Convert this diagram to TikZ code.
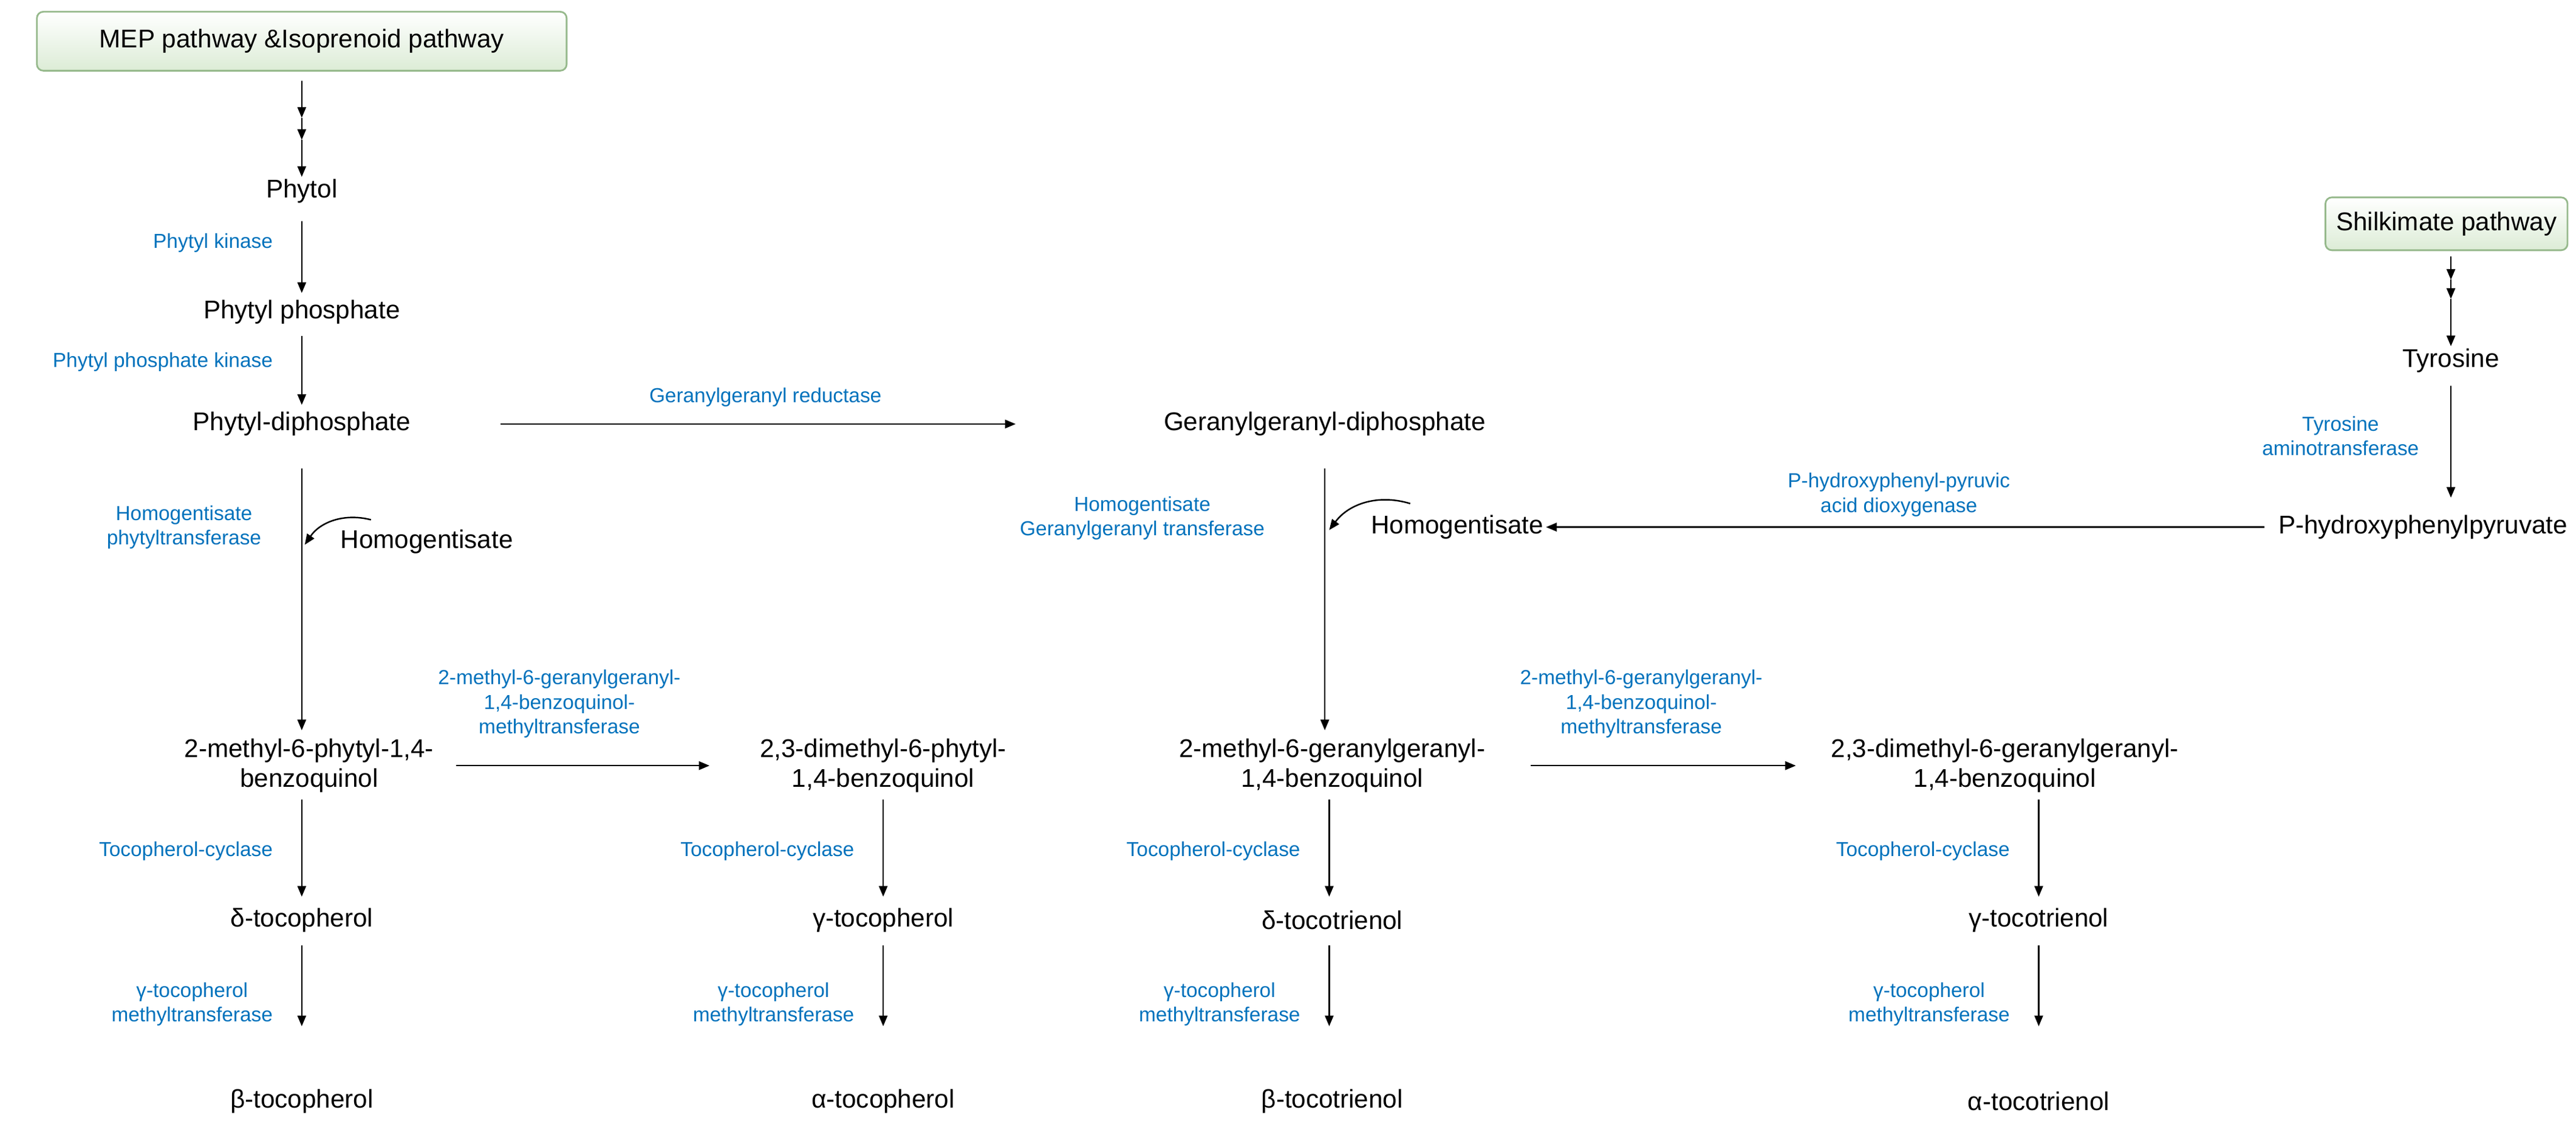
\documentclass[tikz,border=0pt]{standalone}
\usepackage{fontspec}
\setmainfont{Liberation Sans}
\usetikzlibrary{arrows.meta}
\definecolor{enz}{RGB}{0,114,188}
\definecolor{boxg}{RGB}{220,236,214}
\definecolor{boxd}{RGB}{150,185,140}
\begin{document}
\begin{tikzpicture}[x=0.024234cm,y=-0.024234cm,
 cmp/.style={font=\fontsize{12}{14}\selectfont,align=center,inner sep=1pt},
 en/.style={font=\fontsize{9.5}{11.5}\selectfont,text=enz,align=center,inner sep=1pt},
 pw/.style={draw=boxd,line width=0.8pt,rounded corners=3pt,top color=white,bottom color=boxg,font=\fontsize{12}{14}\selectfont,inner sep=5pt},
 ar/.style={-{Triangle[length=5pt,width=4pt]},line width=0.7pt}]
\useasboundingbox (0,0) rectangle (1750,763);
% left column
\node[pw,minimum width=8.72cm,minimum height=0.97cm] (mep) at (205,28) {MEP pathway \&Isoprenoid pathway};
\node[cmp] (phytol) at (205,130) {Phytol};
\coordinate (m1) at (205,80); \coordinate (m2) at (205,95);
\draw[ar] (205,55) -- (m1);
\draw[ar] (m1) -- (m2);
\draw[ar] (m2) -- (phytol.north);
\node[cmp] (pp) at (205,212) {Phytyl phosphate};
\draw[ar] (205,150) -- (205,199);
\node[en,anchor=east] at (187,165) {Phytyl kinase};
\node[cmp] (pdp) at (205,288) {Phytyl-diphosphate};
\draw[ar] (205,228) -- (205,275);
\node[en,anchor=east] at (187,246) {Phytyl phosphate kinase};
\node[cmp] (q1) at (210,520) {2-methyl-6-phytyl-1,4-\\benzoquinol};
\draw[ar] (205,318) -- (205,496);
\node[cmp] (hg1) at (290,368) {Homogentisate};
\draw[ar] (252,353) to[bend right=35] (207,370);
\node[en] at (125,358) {Homogentisate\\phytyltransferase};
\node[cmp] (dt) at (205,625) {δ-tocopherol};
\draw[ar] (205,543) -- (205,609);
\node[en,anchor=east] at (187,578) {Tocopherol-cyclase};
\node[cmp] (bt) at (205,748) {β-tocopherol};
\draw[ar] (205,642) -- (205,697);
\node[en,anchor=east] at (187,682) {γ-tocopherol\\methyltransferase};
% second column
\node[cmp] (q2) at (600,520) {2,3-dimethyl-6-phytyl-\\1,4-benzoquinol};
\draw[ar] (310,520) -- (482,520);
\node[en] at (380,478) {2-methyl-6-geranylgeranyl-\\1,4-benzoquinol-\\methyltransferase};
\node[cmp] (gt) at (600,625) {γ-tocopherol};
\draw[ar] (600,543) -- (600,609);
\node[en,anchor=east] at (582,578) {Tocopherol-cyclase};
\node[cmp] (at) at (600,748) {α-tocopherol};
\draw[ar] (600,642) -- (600,697);
\node[en,anchor=east] at (582,682) {γ-tocopherol\\methyltransferase};
% third column
\node[cmp] (ggdp) at (900,288) {Geranylgeranyl-diphosphate};
\draw[ar] (340,288) -- (690,288);
\node[en] at (520,270) {Geranylgeranyl reductase};
\node[cmp] (q3) at (905,520) {2-methyl-6-geranylgeranyl-\\1,4-benzoquinol};
\draw[ar] (900,318) -- (900,496);
\node[cmp] (hg2) at (990,358) {Homogentisate};
\draw[ar] (958,342) to[bend right=35] (903,360);
\node[en] at (776,352) {Homogentisate\\Geranylgeranyl transferase};
\node[cmp] (dt3) at (905,625) {δ-tocotrienol};
\draw[ar] (903,543) -- (903,609);
\node[en,anchor=east] at (885,578) {Tocopherol-cyclase};
\node[cmp] (bt3) at (905,748) {β-tocotrienol};
\draw[ar] (903,642) -- (903,697);
\node[en,anchor=east] at (885,682) {γ-tocopherol\\methyltransferase};
% fourth column
\node[cmp] (q4) at (1362,520) {2,3-dimethyl-6-geranylgeranyl-\\1,4-benzoquinol};
\draw[ar] (1040,520) -- (1220,520);
\node[en] at (1115,478) {2-methyl-6-geranylgeranyl-\\1,4-benzoquinol-\\methyltransferase};
\node[cmp] (gt4) at (1385,625) {γ-tocotrienol};
\draw[ar] (1385,543) -- (1385,609);
\node[en,anchor=east] at (1367,578) {Tocopherol-cyclase};
\node[cmp] (at4) at (1385,748) {α-tocotrienol};
\draw[ar] (1385,642) -- (1385,697);
\node[en,anchor=east] at (1367,682) {γ-tocopherol\\methyltransferase};
% shikimate
\node[pw,minimum width=3.64cm,minimum height=0.87cm] (shk) at (1662,152) {Shilkimate pathway};
\node[cmp] (tyr) at (1665,245) {Tyrosine};
\coordinate (s1) at (1665,190); \coordinate (s2) at (1665,203);
\draw[ar] (1665,174) -- (s1);
\draw[ar] (s1) -- (s2);
\draw[ar] (s2) -- (tyr.north);
\node[cmp,anchor=east] (hpp) at (1746,358) {P-hydroxyphenylpyruvate};
\draw[ar] (1665,262) -- (1665,338);
\node[en] at (1590,296) {Tyrosine\\aminotransferase};
\draw[ar] (hpp.west)++(-8,0) -- (hg2.east);
\node[en] at (1290,336) {P-hydroxyphenyl-pyruvic\\acid dioxygenase};
\end{tikzpicture}
\end{document}
